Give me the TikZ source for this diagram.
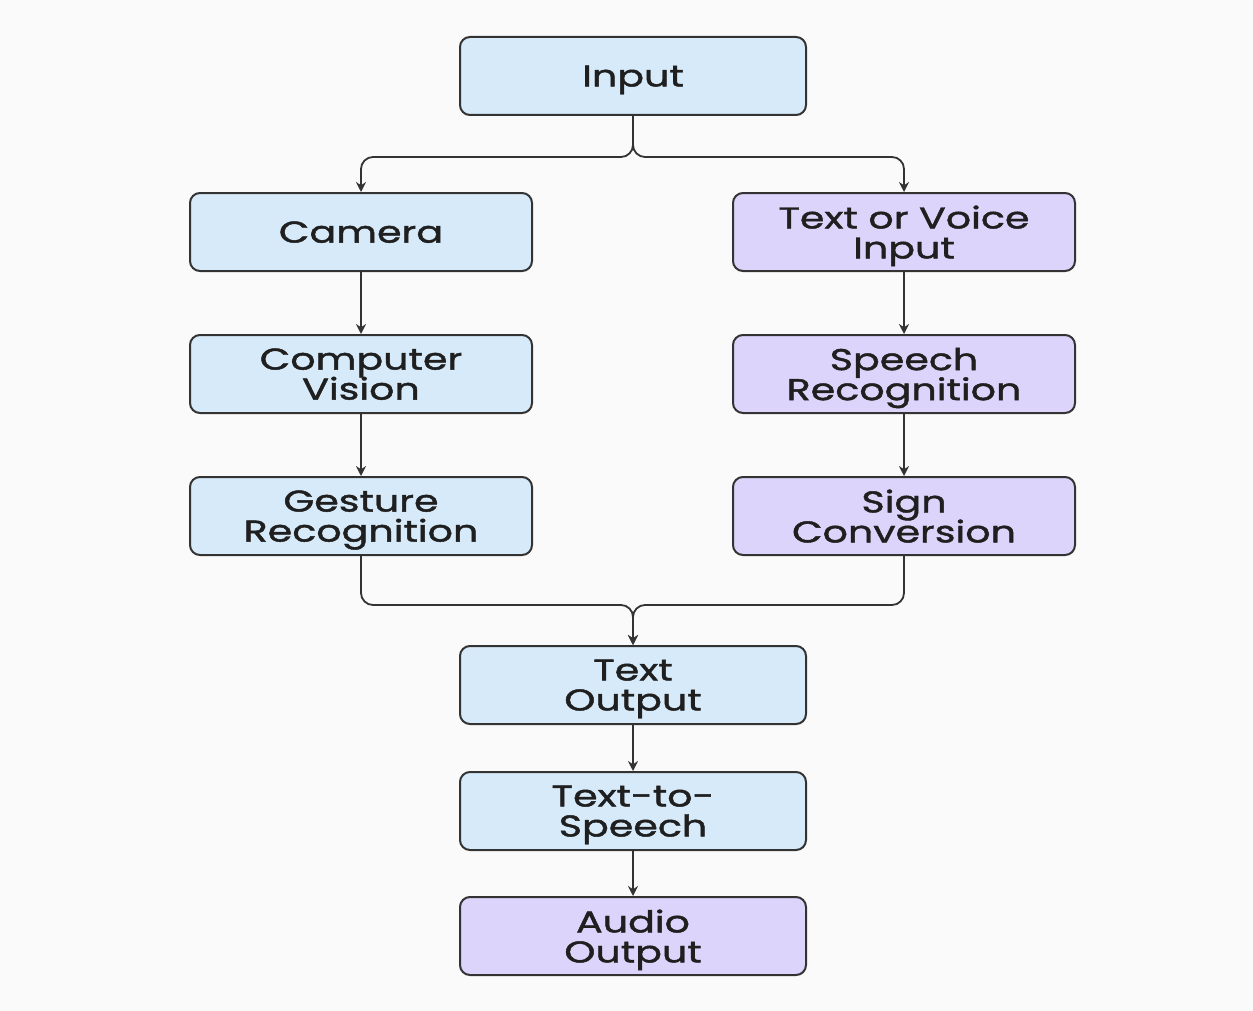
\documentclass[tikz,border=0pt]{standalone}
\usepackage{fontspec}
\setmainfont{Poppins}[FakeStretch=1.32,FakeBold=1.5]
\usetikzlibrary{arrows.meta}
\definecolor{boxblue}{HTML}{D6EAF9}
\definecolor{boxpurple}{HTML}{DCD4FA}
\definecolor{edge}{HTML}{333333}
% box labels: fixed 15pt line pitch, no extra interline glue
\newcommand\boxlabelfont{\fontsize{15}{15}\selectfont\lineskiplimit=-20pt\relax\lineskip=0pt\relax}
\begin{document}
\begin{tikzpicture}[x=0.5pt,y=-0.5pt,
  box/.style={draw=edge,line width=1pt,rounded corners=5pt,
    minimum width=171pt,minimum height=39pt,inner sep=0pt,align=center,
    text depth=0pt,font=\boxlabelfont,text=black!88},
  bluebox/.style={box,fill=boxblue},
  purplebox/.style={box,fill=boxpurple},
  link/.style={draw=edge,line width=0.9pt,rounded corners=6pt,-{Stealth[length=5pt,width=5pt]}}]
\useasboundingbox[fill=white!98!black] (0,0) rectangle (1253,1011);
% nodes
\node[bluebox,minimum width=173pt] (input) at (633,76) {Input};
\node[bluebox] (camera) at (361,232) {Camera};
\node[purplebox] (tvi) at (904,232) {Text or Voice\\Input};
\node[bluebox] (cv) at (361,374) {Computer\\Vision};
\node[purplebox] (sr) at (904,374) {Speech\\Recognition};
\node[bluebox] (gr) at (361,516) {Gesture\\Recognition};
\node[purplebox] (sc) at (904,516) {Sign\\Conversion};
\node[bluebox,minimum width=173pt] (to) at (633,685) {Text\\Output};
\node[bluebox,minimum width=173pt] (tts) at (633,811) {Text-to-\\Speech};
\node[purplebox,minimum width=173pt] (ao) at (633,936) {Audio\\Output};
% split below the input
\coordinate (split) at (633,157);
\path[link] (input.south) -- (split) -| (camera.north);
\path[link] (input.south) -- (split) -| (tvi.north);
% the two branches
\path[link] (camera) -- (cv);
\path[link] (cv) -- (gr);
\path[link] (tvi) -- (sr);
\path[link] (sr) -- (sc);
% merge above the text output
\coordinate (merge) at (633,605);
\path[link] (gr.south) |- (merge) -- (to.north);
\path[link] (sc.south) |- (merge) -- (to.north);
% output chain
\path[link] (to) -- (tts);
\path[link] (tts) -- (ao);
\end{tikzpicture}
\end{document}
